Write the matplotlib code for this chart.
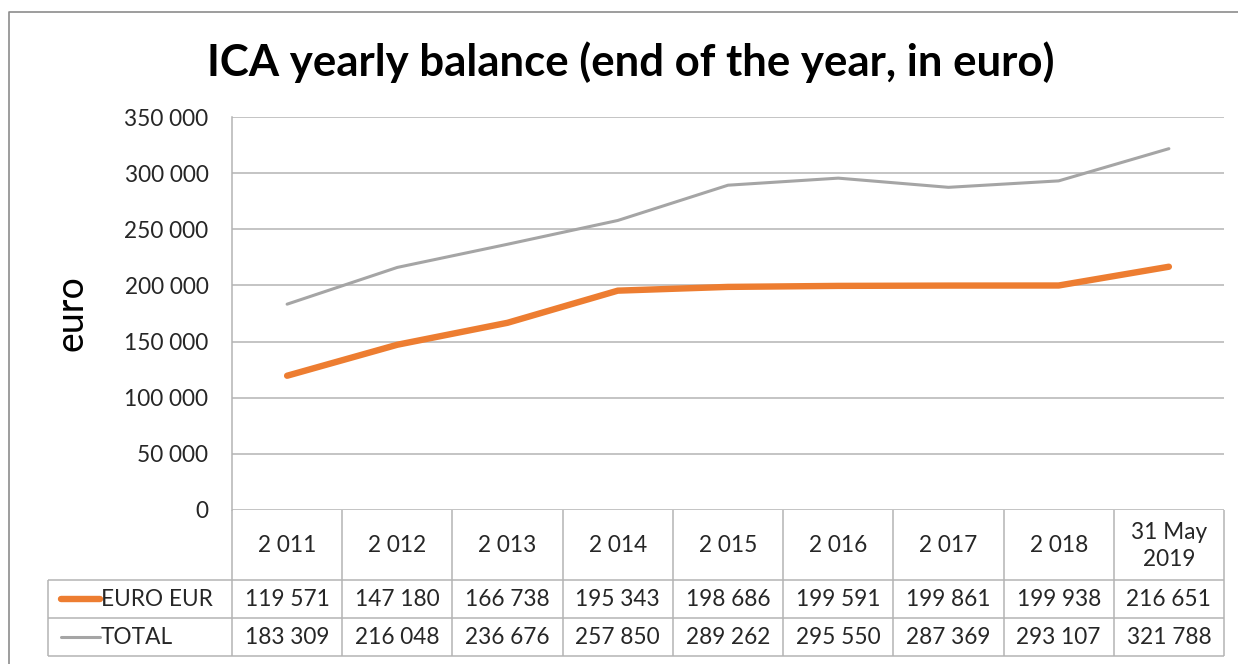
import matplotlib
matplotlib.use("Agg")
import matplotlib.pyplot as plt
from matplotlib.transforms import blended_transform_factory

plt.rcParams['font.family'] = ['Lato', 'DejaVu Sans']

categories = ["2 011", "2 012", "2 013", "2 014", "2 015", "2 016", "2 017", "2 018", "31 May\n2019"]
euro_eur = [119571, 147180, 166738, 195343, 198686, 199591, 199861, 199938, 216651]
total = [183309, 216048, 236676, 257850, 289262, 295550, 287369, 293107, 321788]
series_names = ["EURO EUR", "TOTAL"]
yticks = [0, 50000, 100000, 150000, 200000, 250000, 300000, 350000]

ORANGE = "#ED7D31"
GRAY = "#A5A5A5"
GRID = "#B4B4B4"
TXT = "#262626"
FS = 16.3

W, H = 1238, 664
fig = plt.figure(figsize=(W / 100, H / 100), dpi=100)

def fx(px):
    return px / W

def fy(py):
    return 1 - py / H

# overlay in pixel coordinates (y downward)
over = fig.add_axes([0, 0, 1, 1], zorder=0)
over.set_xlim(0, W)
over.set_ylim(H, 0)
over.axis("off")

# outer chart border
over.plot([9, 9, W + 5], [H + 5, 12, 12], color="#8C8C8C", lw=1.2, solid_capstyle="butt")

left, right, top, bottom = 232, 1224, 117, 510
ax = fig.add_axes([fx(left), fy(bottom), fx(right - left), (bottom - top) / H], zorder=2)
ax.patch.set_alpha(0)
x = list(range(len(categories)))
ax.plot(x, total, color=GRAY, lw=2.2, solid_capstyle="round")
ax.plot(x, euro_eur, color=ORANGE, lw=4.6, solid_capstyle="round")
ax.set_xlim(-0.5, len(categories) - 0.5)
ax.set_ylim(0, 350000)
ax.set_yticks(yticks)
ax.set_yticklabels([f"{v:,}".replace(",", " ") for v in yticks], fontsize=FS, color=TXT)
ax.tick_params(axis="y", length=0, pad=17)
ax.set_xticks([])
ax.grid(axis="y", color=GRID, lw=1.1)
for s in ["top", "right", "bottom"]:
    ax.spines[s].set_visible(False)
ax.spines["left"].set_color(GRID)
ax.spines["left"].set_linewidth(1.1)
ax.set_ylabel("euro", fontsize=27, color="black")
ax.yaxis.set_label_coords((89 - left) / (right - left), 0.50)

fig.text(fx(631), fy(62), "ICA yearly balance (end of the year, in euro)", ha="center", va="center",
         fontsize=31.5, fontweight="bold", color="black")

# data table
tr = blended_transform_factory(ax.transData, over.transData)
t_top, r1, r2, t_bot = 510, 580, 618, 656
tab_left = 48
n = len(categories)
lkw = dict(color=GRID, lw=1.1, solid_capstyle="butt")
xr = ax.transData.transform((n - 0.5, 0))[0]
for i in range(n + 1):
    over.plot([i - 0.5, i - 0.5], [t_top, t_bot], transform=tr, **lkw)
over.plot([tab_left, tab_left], [r1, t_bot], **lkw)
for yy in [r1, r2, t_bot]:
    over.plot([tab_left, xr], [yy, yy], **lkw)

for i, c in enumerate(categories):
    over.text(i, (t_top + r1) / 2 + 1, c, transform=tr, ha="center", va="center",
              fontsize=FS, color=TXT, linespacing=1.3)
    over.text(i, (r1 + r2) / 2 + 1, f"{euro_eur[i]:,}".replace(",", " "), transform=tr,
              ha="center", va="center", fontsize=FS, color=TXT)
    over.text(i, (r2 + t_bot) / 2 + 1, f"{total[i]:,}".replace(",", " "), transform=tr,
              ha="center", va="center", fontsize=FS, color=TXT)

# legend keys
over.plot([61, 100], [(r1 + r2) / 2, (r1 + r2) / 2], color=ORANGE, lw=4.6, solid_capstyle="round")
over.plot([61, 100], [(r2 + t_bot) / 2, (r2 + t_bot) / 2], color=GRAY, lw=2.2, solid_capstyle="round")
over.text(101, (r1 + r2) / 2 + 1, series_names[0], ha="left", va="center", fontsize=FS, color=TXT)
over.text(101, (r2 + t_bot) / 2 + 1, series_names[1], ha="left", va="center", fontsize=FS, color=TXT)

fig.savefig("out.png", dpi=100, facecolor="white")
